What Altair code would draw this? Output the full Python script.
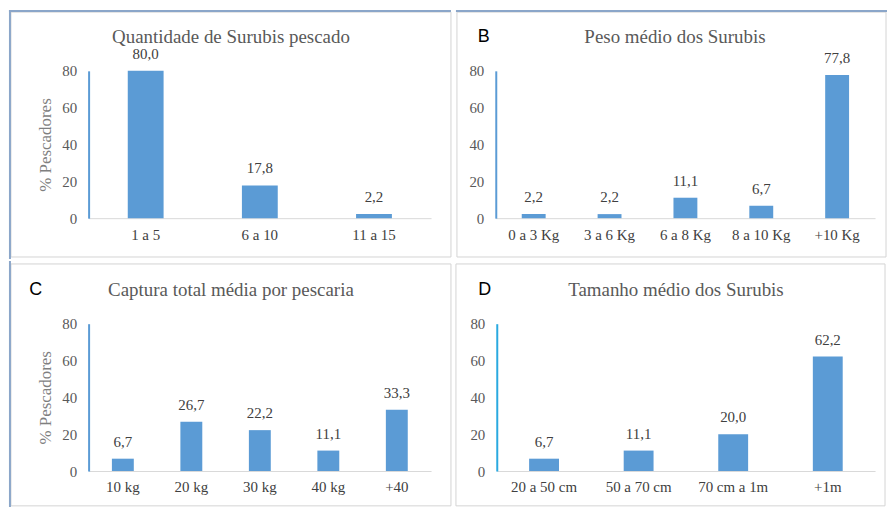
import altair as alt
import pandas as pd

SERIF = "Liberation Serif"
SANS = "Liberation Sans"
BAR = "#5B9BD5"

a_cats = ["1 a 5", "6 a 10", "11 a 15"]
a_vals = [80.0, 17.8, 2.2]
b_cats = ["0 a 3 Kg", "3 a 6 Kg", "6 a 8 Kg", "8 a 10 Kg", "+10 Kg"]
b_vals = [2.2, 2.2, 11.1, 6.7, 77.8]
c_cats = ["10 kg", "20 kg", "30 kg", "40 kg", "+40"]
c_vals = [6.7, 26.7, 22.2, 11.1, 33.3]
d_cats = ["20 a 50 cm", "50 a 70 cm", "70 cm a 1m", "+1m"]
d_vals = [6.7, 11.1, 20.0, 62.2]

titles = ["Quantidade de Surubis pescado", "Peso médio dos Surubis",
          "Captura total média por pescaria", "Tamanho  médio dos Surubis"]
letters = ["", "B", "C", "D"]
y_title = "% Pescadores"
y_ticks = [0, 20, 40, 60, 80]

one = pd.DataFrame({"k": [0]})


def panel(cats, vals, title, letter, w, bar_w, ytitle, box, blue_left, blue_top,
          title_xy, letter_xy, ycolor):
    df = pd.DataFrame({"cat": cats, "val": vals})
    yaxis_kw = dict(values=y_ticks, tickCount=5, grid=False, ticks=False,
                    labelOverlap=False, labelSeparation=0,
                    domainColor=ycolor, domainWidth=2, labelPadding=12,
                    labelFont=SERIF, labelFontSize=15, labelColor="#595959")
    if ytitle:
        yaxis_kw.update(title=ytitle, titleFont=SERIF, titleFontSize=17,
                        titleColor="#7F7F7F", titleFontWeight="normal",
                        titlePadding=7)
    else:
        yaxis_kw.update(title=None)
    yaxis = alt.Axis(**yaxis_kw)
    xaxis = alt.Axis(title=None, labelAngle=0, ticks=False, labelOverlap=False,
                     domainColor="#D9D9D9", labelFont=SERIF, labelFontSize=15,
                     labelColor="#404040", labelPadding=9)
    x = alt.X("cat:N", sort=cats, scale=alt.Scale(paddingInner=0, paddingOuter=0),
              axis=xaxis)
    y = alt.Y("val:Q", scale=alt.Scale(domain=[0, 80], nice=False), axis=yaxis)
    bars = alt.Chart(df).mark_bar(size=bar_w, color=BAR).encode(x=x, y=y)
    labels = alt.Chart(df).transform_calculate(
        lbl="replace(format(datum.val, '.1f'), '.', ',')"
    ).mark_text(font=SERIF, fontSize=15, color="#404040", baseline="bottom",
                dy=-9).encode(x=x, y=y, text="lbl:N")
    x0, x1, y0, y1 = box
    rect = alt.Chart(one).mark_rect(filled=False, stroke="#D4D4D4", strokeWidth=1).encode(
        x=alt.value(x0), x2=alt.value(x1), y=alt.value(y0), y2=alt.value(y1))
    layers = [rect]
    if blue_left:
        lx, ly0, ly1 = blue_left
        layers.append(alt.Chart(one).mark_rule(color="#8BA6C9", strokeWidth=2).encode(
            x=alt.value(lx), y=alt.value(ly0), y2=alt.value(ly1)))
    if blue_top:
        ty, tx0, tx1 = blue_top
        layers.append(alt.Chart(one).mark_rule(color="#8BA6C9", strokeWidth=2).encode(
            y=alt.value(ty), x=alt.value(tx0), x2=alt.value(tx1)))
    layers += [bars, labels]
    layers.append(alt.Chart(one).mark_text(text=title, font=SERIF, fontSize=19,
                                           color="#595959", baseline="middle").encode(
        x=alt.value(title_xy[0]), y=alt.value(title_xy[1])))
    if letter:
        layers.append(alt.Chart(one).mark_text(text=letter, font=SANS, fontSize=18,
                                               color="#000000", baseline="middle").encode(
            x=alt.value(letter_xy[0]), y=alt.value(letter_xy[1])))
    return alt.layer(*layers).properties(width=w, height=148)


pa = panel(a_cats, a_vals, titles[0], letters[0], 344, 36, y_title,
           (-78, 364, -59, 187), (-79, -61, 189), (-60, -80, 364),
           (143, -34), (0, 0), BAR)
pb = panel(b_cats, b_vals, titles[1], letters[1], 381, 24, None,
           (-39, 392, -59, 187), None, (-60, -40, 393),
           (180, -34), (-12, -34), BAR)
pc = panel(c_cats, c_vals, titles[2], letters[2], 344, 22, y_title,
           (-78, 364, -60, 183), (-79, -63, 185), None,
           (143, -34), (-53, -34), BAR)
pd_ = panel(d_cats, d_vals, titles[3], letters[3], 380, 30, None,
            (-41, 390, -60, 183), None, None,
            (180, -34), (-12, -34), "#2AA9E0")

chart = alt.vconcat(
    alt.hconcat(pa, pb, spacing=3),
    alt.hconcat(pc, pd_, spacing=3),
    spacing=0,
).properties(
    padding={"left": 8, "top": 8, "right": 0, "bottom": 0},
    background="white",
).configure_view(strokeWidth=0).configure_axis(labelOverlap=False)

chart.save("out.html", embed_options={"renderer": "svg", "actions": False})
